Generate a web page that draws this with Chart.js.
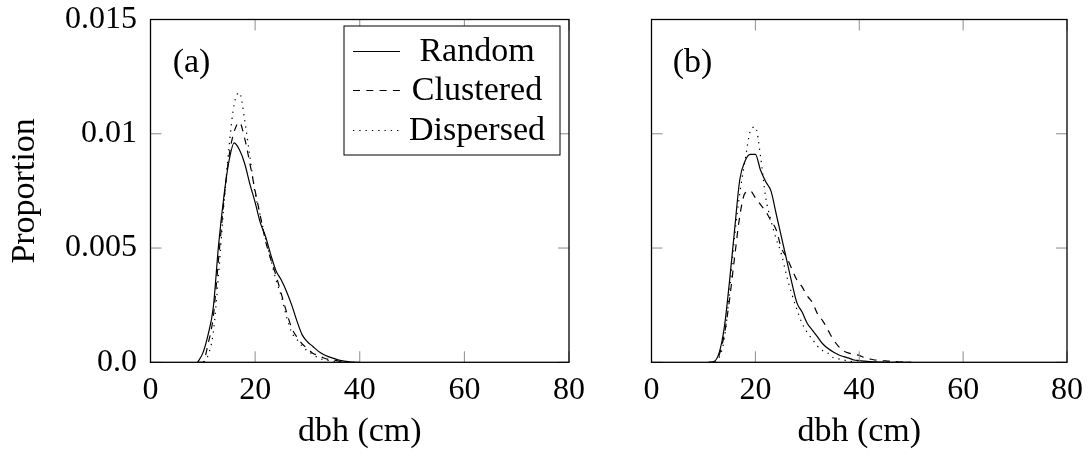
<!DOCTYPE html>
<html>
<head>
<meta charset="utf-8">
<script src="https://cdn.jsdelivr.net/npm/chart.js@4.4.1/dist/chart.umd.min.js"></script>
<style>
  html, body { margin: 0; padding: 0; background: #fff; }
  .panel { position: absolute; top: 0; height: 457px; }
  #wrapA { left: 0; width: 600px; }
  #wrapB { left: 600px; width: 492px; }
</style>
</head>
<body>
<div class="panel" id="wrapA"><canvas id="chartA"></canvas></div>
<div class="panel" id="wrapB"><canvas id="chartB"></canvas></div>
<script>
// datos
const seriesNames = ['Random', 'Clustered', 'Dispersed'];
const yTickLabels = ['0.0', '0.005', '0.01', '0.015'];

// panel (a)
const dbhA = [9, 10, 11, 12, 13, 14, 15, 16, 17, 18, 19, 20, 21, 22, 23, 24, 25, 26, 27, 28, 29, 30,
              31, 32, 33, 34, 35, 36, 37, 38, 39, 40];
const randomA = [0, 0.0004, 0.0012, 0.0024, 0.0051, 0.0072, 0.0088, 0.0096, 0.0093, 0.0087, 0.0078, 0.0070,
                 0.0061, 0.0055, 0.0047, 0.0040, 0.0036, 0.0031, 0.0025, 0.0018, 0.0012, 0.0009,
                 0.0007, 0.0005, 0.00035, 0.00025, 0.00017, 0.0001, 0.00005, 0.00002, 0, 0];
const clusteredA = [0, 0, 0.0008, 0.0020, 0.0045, 0.0070, 0.0090, 0.0101, 0.0105, 0.0098, 0.0087, 0.0075,
                    0.0064, 0.0053, 0.0045, 0.0038, 0.0030, 0.0022, 0.0015, 0.0011, 0.0008, 0.0006,
                    0.0004, 0.0003, 0.0002, 0.00013, 0.0001, 0.00005, 0.00002, 0, 0, 0];
const dispersedA = [0, 0, 0.0003, 0.0013, 0.0038, 0.0068, 0.0094, 0.0113, 0.0118, 0.0106, 0.0090, 0.0074,
                    0.0064, 0.0054, 0.0045, 0.0036, 0.0029, 0.0020, 0.0013, 0.0010, 0.0007, 0.0005,
                    0.00035, 0.0002, 0.00012, 0.00008, 0.00004, 0, 0, 0, 0, 0];

// panel (b)
const dbhB = [11, 12, 13, 14, 15, 16, 17, 18, 19, 20, 21, 22, 23, 24, 25, 26, 27, 28, 29, 30,
              31, 32, 33, 34, 35, 36, 37, 38, 39, 40, 41, 42, 43, 44, 45, 46, 47, 48, 49, 50];
const randomB = [0, 0.00003, 0.0004, 0.0015, 0.0035, 0.0058, 0.0080, 0.0088, 0.0091, 0.0091, 0.0084, 0.0079,
                 0.0075, 0.0065, 0.0055, 0.0045, 0.0035, 0.0026, 0.0022, 0.0017,
                 0.0014, 0.0011, 0.0008, 0.0006, 0.00045, 0.00033, 0.00025, 0.00018, 0.0001, 0.00008,
                 0.00005, 0.00003, 0.00002, 0.00001, 0, 0, 0, 0, 0, 0];
const clusteredB = [0, 0, 0.0003, 0.0012, 0.0027, 0.0046, 0.0064, 0.0074, 0.0075, 0.0072, 0.0069, 0.0066,
                    0.0062, 0.0058, 0.0050, 0.0046, 0.0041, 0.0036, 0.0033, 0.0029,
                    0.0026, 0.0021, 0.0018, 0.0014, 0.0010, 0.0007, 0.0005, 0.0004, 0.00035, 0.0003,
                    0.0002, 0.00015, 0.0001, 0.00008, 0.00006, 0.00005, 0.00003, 0.00001, 0, 0];
const dispersedB = [0, 0, 0.0002, 0.0010, 0.0030, 0.0055, 0.0074, 0.0088, 0.0101, 0.0103, 0.0090, 0.0072,
                    0.0062, 0.0054, 0.00475, 0.0038, 0.0030, 0.0023, 0.0017, 0.0013,
                    0.0010, 0.0007, 0.0005, 0.0004, 0.0002, 0.00015, 0.0001, 0.00005, 0.00002, 0,
                    0, 0, 0, 0, 0, 0, 0, 0, 0, 0];

const fuente = '"Liberation Serif", "Times New Roman", serif';
const estilos = [
    { borderDash: [] },
    { borderDash: [7, 6.3] },
    { borderDash: [1.3, 5] }
];

function puntos(xs, ys) {
    return xs.map((x, i) => ({ x: x, y: ys[i] }));
}

function crearDatasets(xs, listas) {
    return listas.map((ys, i) => ({
        label: seriesNames[i],
        data: puntos(xs, ys),
        borderColor: '#000',
        borderWidth: 1.2,
        borderDash: estilos[i].borderDash,
        pointRadius: 0,
        fill: false,
        cubicInterpolationMode: 'monotone'
    }));
}

// marco con marcas hacia adentro, estilo pgfplots
const marcoPlugin = {
    id: 'marco',
    afterDatasetsDraw(chart) {
        const { ctx, chartArea: a, scales } = chart;
        ctx.save();
        ctx.strokeStyle = '#8c8c8c';
        ctx.lineWidth = 1;
        const largo = 11;
        scales.x.ticks.forEach(t => {
            const px = scales.x.getPixelForValue(t.value);
            ctx.beginPath();
            ctx.moveTo(px, a.bottom); ctx.lineTo(px, a.bottom - largo);
            ctx.moveTo(px, a.top); ctx.lineTo(px, a.top + largo);
            ctx.stroke();
        });
        scales.y.ticks.forEach(t => {
            const py = scales.y.getPixelForValue(t.value);
            ctx.beginPath();
            ctx.moveTo(a.left, py); ctx.lineTo(a.left + largo, py);
            ctx.moveTo(a.right, py); ctx.lineTo(a.right - largo, py);
            ctx.stroke();
        });
        ctx.strokeStyle = '#000';
        ctx.lineWidth = 1.3;
        ctx.strokeRect(a.left, a.top, a.right - a.left, a.bottom - a.top);

        // etiqueta del panel
        const op = chart.options.plugins.marco;
        ctx.fillStyle = '#000';
        ctx.font = '34px ' + fuente;
        ctx.textAlign = 'center';
        ctx.textBaseline = 'middle';
        ctx.fillText(op.panel, a.left + 41, a.top + 44);

        if (op.leyenda) {
            const x0 = a.left + 193.5, x1 = a.right - 9;
            const y0 = a.top + 6.5, y1 = a.top + 135.5;
            ctx.fillStyle = '#fff';
            ctx.fillRect(x0, y0, x1 - x0, y1 - y0);
            ctx.strokeStyle = '#000';
            ctx.lineWidth = 1;
            ctx.strokeRect(x0, y0, x1 - x0, y1 - y0);
            const filas = [a.top + 32, a.top + 71, a.top + 111];
            chart.data.datasets.forEach((ds, i) => {
                ctx.beginPath();
                ctx.setLineDash(ds.borderDash);
                ctx.lineWidth = 1.2;
                ctx.moveTo(x0 + 9, filas[i]);
                ctx.lineTo(x0 + 56, filas[i]);
                ctx.stroke();
                ctx.setLineDash([]);
                ctx.fillStyle = '#000';
                ctx.textAlign = 'center';
                ctx.fillText(ds.label, x0 + 133, filas[i] + 1);
            });
        }
        ctx.restore();
    }
};

function crearGrafica(id, xs, listas, conEjeY, panel, leyenda) {
    const ctx = document.getElementById(id).getContext('2d');
    return new Chart(ctx, {
        type: 'line',
        data: { datasets: crearDatasets(xs, listas) },
        options: {
            responsive: true,
            maintainAspectRatio: false,
            animation: false,
            layout: { padding: { top: 19.5, right: conEjeY ? 31 : 23, left: 0, bottom: 0 } },
            scales: {
                x: {
                    type: 'linear',
                    min: 0,
                    max: 80,
                    grid: { display: false, drawTicks: false },
                    border: { display: false },
                    ticks: {
                        stepSize: 20,
                        padding: 9,
                        color: '#000',
                        maxRotation: 0,
                        font: { family: fuente, size: 32 }
                    },
                    title: {
                        display: true,
                        text: 'dbh (cm)',
                        color: '#000',
                        padding: { top: 0, bottom: 5 },
                        font: { family: fuente, size: 34, lineHeight: 1.2 }
                    },
                    afterFit(scale) { scale.height = 94.7; }
                },
                y: {
                    min: 0,
                    max: 0.015,
                    grid: { display: false, drawTicks: false },
                    border: { display: false },
                    ticks: {
                        display: conEjeY,
                        stepSize: 0.005,
                        padding: 13.5,
                        color: '#000',
                        font: { family: fuente, size: 32 },
                        callback: function (v, i) { return yTickLabels[i]; }
                    },
                    title: {
                        display: conEjeY,
                        text: 'Proportion',
                        color: '#000',
                        padding: { top: 5, bottom: 0 },
                        font: { family: fuente, size: 34, lineHeight: 1.2 }
                    },
                    afterFit(scale) {
                        scale.width = conEjeY ? 150.5 : 51.5;
                        scale.paddingTop = 0;
                        scale.paddingBottom = 0;
                    }
                }
            },
            plugins: {
                legend: { display: false },
                tooltip: { enabled: false },
                marco: { panel: panel, leyenda: leyenda }
            }
        },
        plugins: [marcoPlugin]
    });
}

crearGrafica('chartA', dbhA, [randomA, clusteredA, dispersedA], true, '(a)', true);
crearGrafica('chartB', dbhB, [randomB, clusteredB, dispersedB], false, '(b)', false);
</script>
</body>
</html>
